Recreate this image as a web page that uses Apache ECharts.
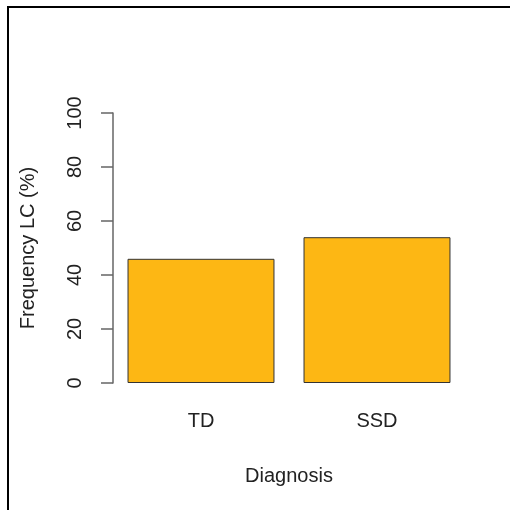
<!DOCTYPE html>
<html>
<head>
<meta charset="utf-8">
<script src="https://cdn.jsdelivr.net/npm/echarts@6/dist/echarts.min.js"></script>
<style>
  html, body { margin: 0; padding: 0; background: #fff; }
  #chart { width: 510px; height: 510px; }
</style>
</head>
<body>
<div id="chart"></div>
<script>
  // data
  var categories = ['TD', 'SSD'];
  var frequencyLC = [46, 54];
  var yTicks = [0, 20, 40, 60, 80, 100];

  var chart = echarts.init(document.getElementById('chart'));
  var font = 'Liberation Sans, Arial, sans-serif';

  var option = {
    animation: false,
    backgroundColor: '#fff',
    grid: {
      left: 113,
      right: 45,
      top: 113,
      bottom: 127
    },
    graphic: [{
      // frame of the screenshot, top and left edges
      type: 'polyline',
      shape: { points: [[8, 510], [8, 7], [510, 7]] },
      style: { stroke: '#000', lineWidth: 2, fill: null }
    }],
    xAxis: {
      type: 'category',
      data: categories,
      name: 'Diagnosis',
      nameLocation: 'middle',
      nameGap: 83,
      nameTextStyle: { fontFamily: font, fontSize: 20, color: '#222' },
      axisLine: { show: false },
      axisTick: { show: false },
      axisLabel: { fontFamily: font, fontSize: 20, color: '#222', margin: 28 }
    },
    yAxis: {
      type: 'value',
      min: yTicks[0],
      max: yTicks[yTicks.length - 1],
      interval: yTicks[1] - yTicks[0],
      name: 'Frequency LC (%)',
      nameLocation: 'middle',
      nameGap: 75,
      nameRotate: 90,
      nameTextStyle: { fontFamily: font, fontSize: 20, color: '#222' },
      splitLine: { show: false },
      axisLine: { show: true, lineStyle: { color: '#666', width: 1.5 } },
      axisTick: { show: true, length: 12, lineStyle: { color: '#666', width: 1.5 } },
      axisLabel: { fontFamily: font, fontSize: 20, color: '#222', rotate: 90, margin: 28 }
    },
    series: [{
      type: 'bar',
      data: frequencyLC,
      barCategoryGap: '16.5%',
      itemStyle: {
        color: '#FDB714',
        borderColor: '#333',
        borderWidth: 1
      }
    }]
  };

  chart.setOption(option);
</script>
</body>
</html>
